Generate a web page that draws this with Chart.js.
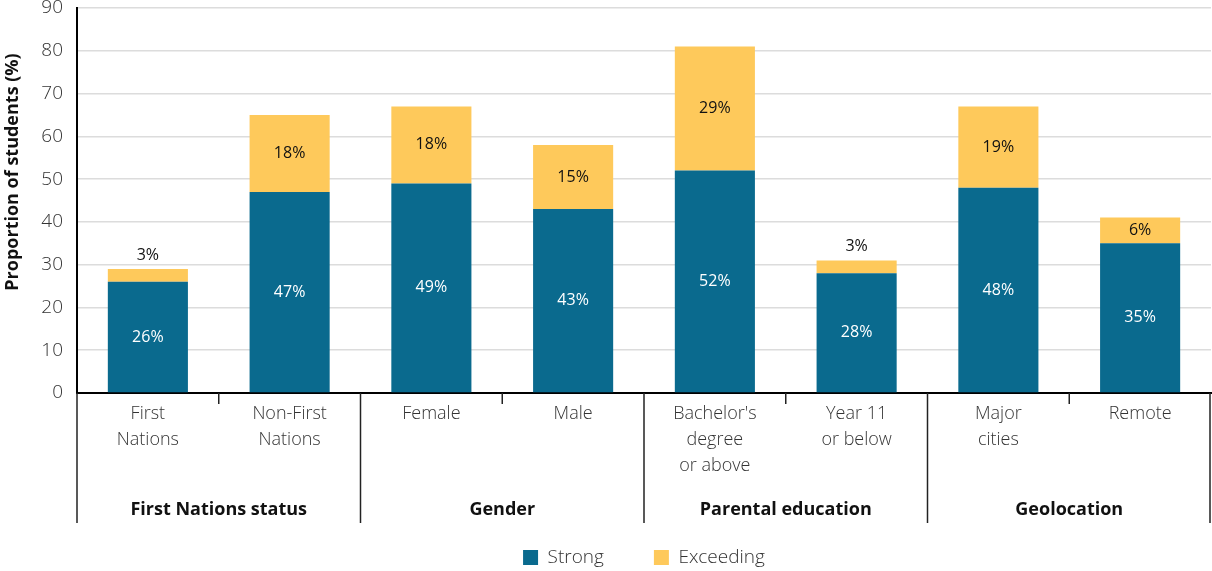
<!DOCTYPE html>
<html>
<head>
<meta charset="utf-8">
<script src="https://cdn.jsdelivr.net/npm/chart.js@4/dist/chart.umd.min.js"></script>
<style>
  html, body { margin: 0; padding: 0; background: #fff; }
  #wrap { width: 1212px; height: 571px; }
</style>
</head>
<body>
<div id="wrap"><canvas id="chart" width="1212" height="571"></canvas></div>
<script>
// data
const categories = [
  ['First', 'Nations'], ['Non-First', 'Nations'],
  ['Female'], ['Male'],
  ["Bachelor's", 'degree', 'or above'], ['Year 11', 'or below'],
  ['Major', 'cities'], ['Remote']
];
const groups = ['First Nations status', 'Gender', 'Parental education', 'Geolocation'];
const strong = [26, 47, 49, 43, 52, 28, 48, 35];
const exceeding = [3, 18, 18, 15, 29, 3, 19, 6];
const yTicks = [0, 10, 20, 30, 40, 50, 60, 70, 80, 90];
const yTitle = 'Proportion of students (%)';

const FONT = "'Open Sans', 'Noto Sans', sans-serif";
const BLUE = '#0a6a8e';
const GOLD = '#fec95b';

// value labels on each segment
const segLabels = {
  id: 'segLabels',
  afterDatasetsDraw(chart) {
    const ctx = chart.ctx;
    ctx.save();
    ctx.font = '400 16px ' + FONT;
    ctx.textAlign = 'center';
    ctx.textBaseline = 'middle';
    chart.data.datasets.forEach((ds, di) => {
      const meta = chart.getDatasetMeta(di);
      meta.data.forEach((bar, i) => {
        const v = ds.data[i];
        const txt = v + '%';
        if (v < 5) {
          ctx.fillStyle = '#111';
          ctx.fillText(txt, bar.x, bar.y - 14);
        } else {
          ctx.fillStyle = di === 0 ? '#fff' : '#111';
          ctx.fillText(txt, bar.x, (bar.y + bar.base) / 2);
        }
      });
    });
    ctx.restore();
  }
};

// group dividers, group names and the y title
const groupAxis = {
  id: 'groupAxis',
  afterDraw(chart) {
    const ctx = chart.ctx;
    const x = chart.scales.x;
    const area = chart.chartArea;
    const y0 = area.bottom;
    const yEnd = 523;
    ctx.save();
    ctx.strokeStyle = '#222';
    ctx.lineWidth = 1.5;
    for (let g = 0; g <= groups.length; g++) {
      let px;
      if (g === 0) px = area.left;
      else if (g === groups.length) px = area.right - 1;
      else px = (x.getPixelForValue(2 * g - 1) + x.getPixelForValue(2 * g)) / 2;
      ctx.beginPath();
      ctx.moveTo(px, y0);
      ctx.lineTo(px, yEnd);
      ctx.stroke();
    }
    // short ticks between the two bars of a group
    for (let g = 0; g < groups.length; g++) {
      const px = (x.getPixelForValue(2 * g) + x.getPixelForValue(2 * g + 1)) / 2;
      ctx.beginPath();
      ctx.moveTo(px, y0);
      ctx.lineTo(px, y0 + 11);
      ctx.stroke();
    }
    ctx.font = '700 18px ' + FONT;
    ctx.fillStyle = '#111';
    ctx.textAlign = 'center';
    ctx.textBaseline = 'middle';
    groups.forEach((name, g) => {
      const cx = (x.getPixelForValue(2 * g) + x.getPixelForValue(2 * g + 1)) / 2;
      ctx.fillText(name, cx, 510);
    });
    // y axis title
    ctx.translate(13, 172);
    ctx.rotate(-Math.PI / 2);
    ctx.fillText(yTitle, 0, 0);
    ctx.restore();
  }
};

new Chart(document.getElementById('chart'), {
  type: 'bar',
  data: {
    labels: categories,
    datasets: [
      { label: 'Strong', data: strong, backgroundColor: BLUE },
      { label: 'Exceeding', data: exceeding, backgroundColor: GOLD }
    ]
  },
  options: {
    responsive: false,
    animation: false,
    layout: { padding: { top: 8, right: 1, left: 0, bottom: -6 } },
    datasets: { bar: { categoryPercentage: 1, barPercentage: 0.565 } },
    plugins: {
      legend: {
        position: 'bottom',
        fullSize: false,
        labels: {
          boxWidth: 15, boxHeight: 15, padding: 50,
          color: '#333',
          font: { family: FONT, size: 19, weight: '300' }
        }
      },
      tooltip: { enabled: false }
    },
    scales: {
      x: {
        stacked: true,
        grid: { display: false },
        border: { color: '#000', width: 2 },
        ticks: {
          color: '#333', padding: 0, maxRotation: 0,
          font: { family: FONT, size: 18, weight: '300', lineHeight: 1.45 }
        },
        afterFit(scale) {
          scale.height = 105;
          scale.paddingLeft = 0;
          scale.paddingRight = 0;
        }
      },
      y: {
        stacked: true,
        min: 0, max: 90,
        afterBuildTicks(scale) { scale.ticks = yTicks.map(v => ({ value: v })); },
        grid: { color: '#dcdcdc', lineWidth: 1.5, drawTicks: false },
        border: { color: '#000', width: 2 },
        ticks: {
          color: '#333', padding: 14,
          font: { family: FONT, size: 19, weight: '300' }
        },
        afterFit(scale) {
          scale.width = 77;
          scale.paddingTop = 0;
          scale.paddingBottom = 0;
        }
      }
    }
  },
  plugins: [segLabels, groupAxis]
});
</script>
</body>
</html>
